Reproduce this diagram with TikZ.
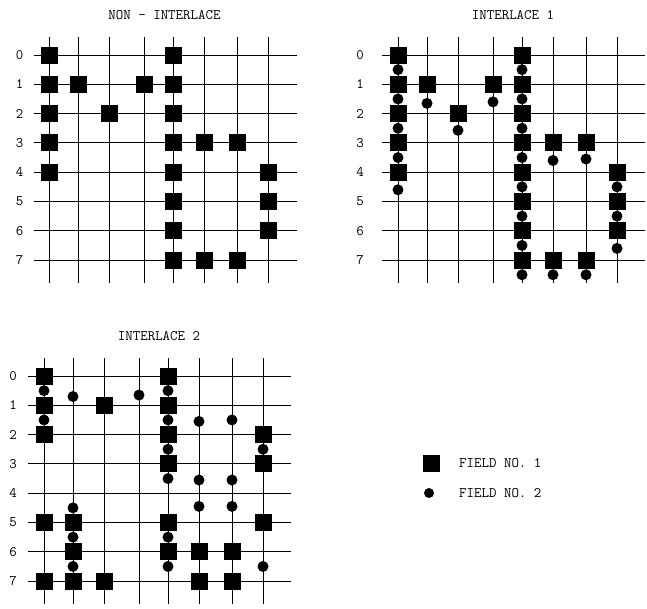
\documentclass[tikz,border=0pt]{standalone}
\usepackage{fontspec}
\usetikzlibrary{positioning}

\tikzset{
    gridline/.style={line width=1pt},
    fieldone/.style={fill=black, minimum size=17pt, inner sep=0pt},
    fieldtwo/.style={circle, fill=black, minimum size=11pt, inner sep=0pt},
    label text/.style={font=\ttfamily\fontsize{14.5}{14.5}\selectfont},
}

% column positions of the raster (rows are evenly spaced)
\newcommand{\colpos}{{0,29,60,95,124,155,188,219}}

% #1 name, #2 title, #3 x of the row numbers
\newcommand{\drawraster}[3]{%
    \foreach \c in {0,...,7}{
        \pgfmathsetmacro\xx{\colpos[\c]}
        \draw[gridline] (\xx,-18) -- (\xx,228);
    }
    \foreach \r in {0,...,7}{
        \draw[gridline] (-16,\r*29.3) -- (247,\r*29.3);
        \node[label text] (#1-row\r) at (#3,\r*29.3) {\r};
    }
    \node[label text] (#1-title) at (115,-40) {#2};
}

% #1 name, #2 list col/row
\newcommand{\drawfieldone}[2]{%
    \foreach \c/\r [count=\i] in {#2}{
        \pgfmathsetmacro\xx{\colpos[\c]}
        \node[fieldone] (#1-s\i) at (\xx,\r*29.3) {};
    }
}
\newcommand{\drawfieldtwo}[2]{%
    \foreach \c/\r [count=\i] in {#2}{
        \pgfmathsetmacro\xx{\colpos[\c]}
        \node[fieldtwo] (#1-d\i) at (\xx,\r*29.3) {};
    }
}

\begin{document}
\begin{tikzpicture}[x=1pt,y=-1pt]
    \useasboundingbox (0,0) rectangle (647,608);

    % non-interlace
    \begin{scope}[shift={(49.5,55)}]
        \drawraster{non}{NON - INTERLACE}{-30}
        \drawfieldone{non}{0/0,0/1,0/2,0/3,0/4,1/1,2/2,3/1,4/0,4/1,4/2,4/3,4/4,4/5,4/6,4/7,5/3,5/7,6/3,6/7,7/4,7/5,7/6}
    \end{scope}

    % interlace 1
    \begin{scope}[shift={(398,55)}]
        \drawraster{ia}{INTERLACE 1}{-38}
        \drawfieldtwo{ia}{0/0.5,0/1.5,0/2.5,0/3.5,0/4.6,1/1.65,2/2.57,3/1.6,4/0.5,4/1.5,4/2.5,4/3.5,4/4.5,4/5.5,4/6.5,4/7.5,5/3.6,5/7.5,6/3.55,6/7.5,7/4.5,7/5.5,7/6.6}
        \drawfieldone{ia}{0/0,0/1,0/2,0/3,0/4,1/1,2/2,3/1,4/0,4/1,4/2,4/3,4/4,4/5,4/6,4/7,5/3,5/7,6/3,6/7,7/4,7/5,7/6}
    \end{scope}

    % interlace 2
    \begin{scope}[shift={(44,376)}]
        \drawraster{ib}{INTERLACE 2}{-31}
        \drawfieldtwo{ib}{0/0.5,0/1.5,1/0.7,1/4.5,1/5.5,1/6.5,3/0.65,4/0.5,4/1.5,4/2.5,4/3.5,4/5.5,4/6.5,5/1.55,5/3.55,5/4.45,6/1.5,6/3.55,6/4.45,7/2.5,7/6.5}
        \drawfieldone{ib}{0/0,0/1,0/2,0/5,0/7,1/5,1/6,1/7,2/1,2/7,4/0,4/1,4/2,4/3,4/5,4/6,5/6,5/7,6/6,6/7,7/2,7/3,7/5}
    \end{scope}

    % key
    \node[fieldone] (key1) at (431,463) {};
    \node[label text, right=16pt of key1] (key1-text) {FIELD NO. 1};
    \node[fieldtwo, minimum size=10pt] (key2) at (429,493) {};
    \node[label text, anchor=west] (key2-text) at (key1-text.west |- key2) {FIELD NO. 2};
\end{tikzpicture}
\end{document}
